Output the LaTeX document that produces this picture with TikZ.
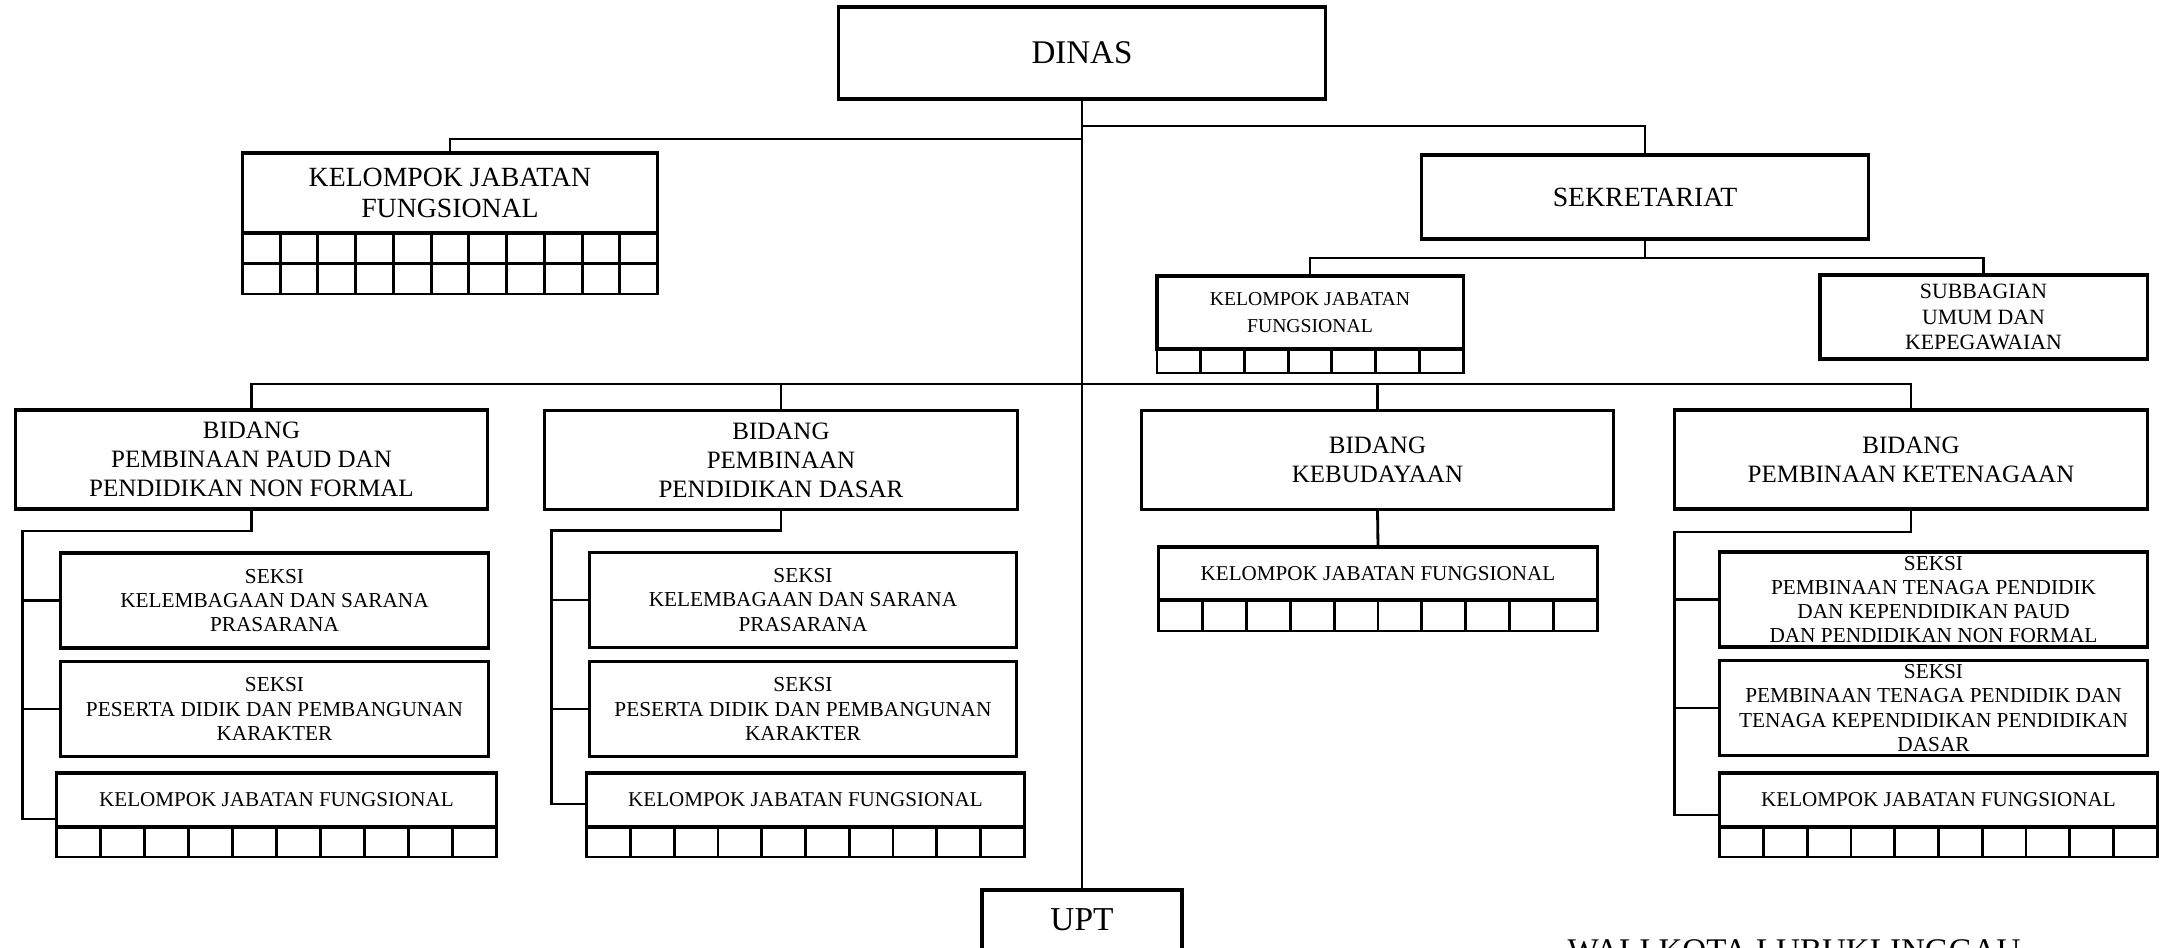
\documentclass[tikz,border=0pt]{standalone}
\usepackage{fontspec}
\setmainfont{Liberation Serif}
\usetikzlibrary{calc}
\tikzset{
  box/.style={draw, line width=0.9pt, align=center, inner sep=0.5pt, outer sep=0pt},
  link/.style={line width=0.8pt},
  cell/.style={line width=0.8pt},
  bidang/.style={box, minimum width=4.72cm, minimum height=0.99cm, font=\fontsize{7.1}{8.2}\selectfont},
  seksi/.style={box, minimum width=4.27cm, minimum height=0.95cm, font=\fontsize{6.05}{6.9}\selectfont},
  kjf/.style={box, minimum width=4.38cm, minimum height=0.54cm, font=\fontsize{6}{7}\selectfont},
}
% cells under a KJF header: node, columns, rows, row height
\newcommand{\kjfgrid}[4]{%
  \foreach \r in {1,...,#3}
    \draw[cell] ($(#1.south west)+(0,{(\r-1)*#4})$) rectangle ($(#1.south east)+(0,{\r*#4})$);
  \foreach \i [evaluate=\i as \f using \i/#2] in {1,...,#2}
    \draw[cell] ($(#1.south west)!\f!(#1.south east)$) -- ++(0,{#3*#4});
}

\begin{document}
\begin{tikzpicture}[x=0.01cm, y=-0.01cm]
  \useasboundingbox (0,0) rectangle (2172,947);

  \node[box, minimum width=4.86cm, minimum height=0.92cm, font=\fontsize{9.4}{11}\selectfont] (dinas) at (1082,53) {DINAS};
  \node[box, minimum width=4.15cm, minimum height=0.80cm, font=\fontsize{7.9}{8.9}\selectfont] (kjfT) at (450,193) {KELOMPOK JABATAN\\FUNGSIONAL};
  \node[box, minimum width=4.47cm, minimum height=0.84cm, font=\fontsize{7.9}{9}\selectfont] (sekre) at (1645,197) {SEKRETARIAT};
  \node[box, minimum width=3.06cm, minimum height=0.73cm, font=\fontsize{5.6}{7.6}\selectfont] (kjfS) at (1310,312.5) {KELOMPOK JABATAN\\FUNGSIONAL};
  \node[box, minimum width=3.27cm, minimum height=0.84cm, font=\fontsize{6.2}{7.25}\selectfont] (subbag) at (1983.5,317) {SUBBAGIAN\\UMUM DAN\\KEPEGAWAIAN};

  \node[bidang] (bidA) at (251.5,459.5) {BIDANG\\PEMBINAAN PAUD DAN\\PENDIDIKAN NON FORMAL};
  \node[bidang] (bidB) at (781,460) {BIDANG\\PEMBINAAN\\PENDIDIKAN DASAR};
  \node[bidang] (bidC) at (1377.5,460) {BIDANG\\KEBUDAYAAN};
  \node[bidang] (bidD) at (1911,459.5) {BIDANG\\PEMBINAAN KETENAGAAN};

  \node[seksi] (seksiA1) at (274.5,600.5) {SEKSI\\KELEMBAGAAN DAN SARANA\\PRASARANA};
  \node[seksi] (seksiA2) at (274.5,709) {SEKSI\\PESERTA DIDIK DAN PEMBANGUNAN\\KARAKTER};
  \node[kjf, minimum width=4.39cm] (kjfA) at (276.5,800) {KELOMPOK JABATAN FUNGSIONAL};

  \node[seksi] (seksiB1) at (803,600) {SEKSI\\KELEMBAGAAN DAN SARANA\\PRASARANA};
  \node[seksi] (seksiB2) at (803,709) {SEKSI\\PESERTA DIDIK DAN PEMBANGUNAN\\KARAKTER};
  \node[kjf, minimum width=4.37cm] (kjfB) at (805.5,800) {KELOMPOK JABATAN FUNGSIONAL};

  \node[kjf, minimum height=0.53cm] (kjfC) at (1378,573.5) {KELOMPOK JABATAN FUNGSIONAL};

  \node[seksi] (seksiD1) at (1933.5,599.5) {SEKSI\\PEMBINAAN TENAGA PENDIDIK\\DAN KEPENDIDIKAN PAUD\\DAN PENDIDIKAN NON FORMAL};
  \node[seksi] (seksiD2) at (1933.5,708) {SEKSI\\PEMBINAAN TENAGA PENDIDIK DAN\\TENAGA KEPENDIDIKAN PENDIDIKAN\\DASAR};
  \node[kjf, minimum width=4.37cm] (kjfD) at (1938.5,800) {KELOMPOK JABATAN FUNGSIONAL};

  \node[box, minimum width=2.00cm, minimum height=0.60cm, font=\fontsize{9.5}{11}\selectfont] (upt) at (1082,920) {UPT};
  \node[anchor=base west, inner sep=0pt, font=\fontsize{9.4}{11}\selectfont] (wali) at (1567,961) {WALI KOTA LUBUKLINGGAU};

  \kjfgrid{kjfT}{11}{2}{30.5}
  \kjfgrid{kjfS}{7}{1}{24}
  \kjfgrid{kjfA}{10}{1}{30}
  \kjfgrid{kjfB}{10}{1}{30}
  \kjfgrid{kjfC}{10}{1}{31}
  \kjfgrid{kjfD}{10}{1}{30}

  \draw[link] (dinas.south) -- (upt.north);
  \draw[link] ($(dinas.south)+(0,40)$) -| (kjfT.north);
  \draw[link] ($(dinas.south)+(0,27)$) -| (sekre.north);
  \draw[link] (sekre.south) -- ++(0,19);
  \draw[link] (kjfS.north) |- ($(sekre.south)+(0,19)$) -| (subbag.north);

  \coordinate (bus) at ($(dinas.south)+(0,285)$);
  \draw[link] (bidA.north) |- (bus) -| (bidD.north);
  \draw[link] (bidB.north) -- (bidB.north |- bus);
  \draw[link] (bidC.north) -- (bidC.north |- bus);
  \draw[link] (bidC.south) -- (kjfC.north);

  \coordinate (spA) at ([xshift=-0.34cm, yshift=-0.19cm]kjfA.west);
  \coordinate (spB) at ([xshift=-0.35cm, yshift=-0.04cm]kjfB.west);
  \coordinate (spD) at ([xshift=-0.45cm, yshift=-0.15cm]kjfD.west);
  \draw[link] (bidA.south) -- ++(0,22) -| (spA) -- (spA -| kjfA.west);
  \draw[link] (bidB.south) -- ++(0,21) -| (spB) -- (spB -| kjfB.west);
  \draw[link] (bidD.south) -- ++(0,23) -| (spD) -- (spD -| kjfD.west);
  \foreach \s in {A,B,D} {
    \draw[link] (sp\s |- seksi\s1.west) -- (seksi\s1.west);
    \draw[link] (sp\s |- seksi\s2.west) -- (seksi\s2.west);
  }
\end{tikzpicture}
\end{document}
